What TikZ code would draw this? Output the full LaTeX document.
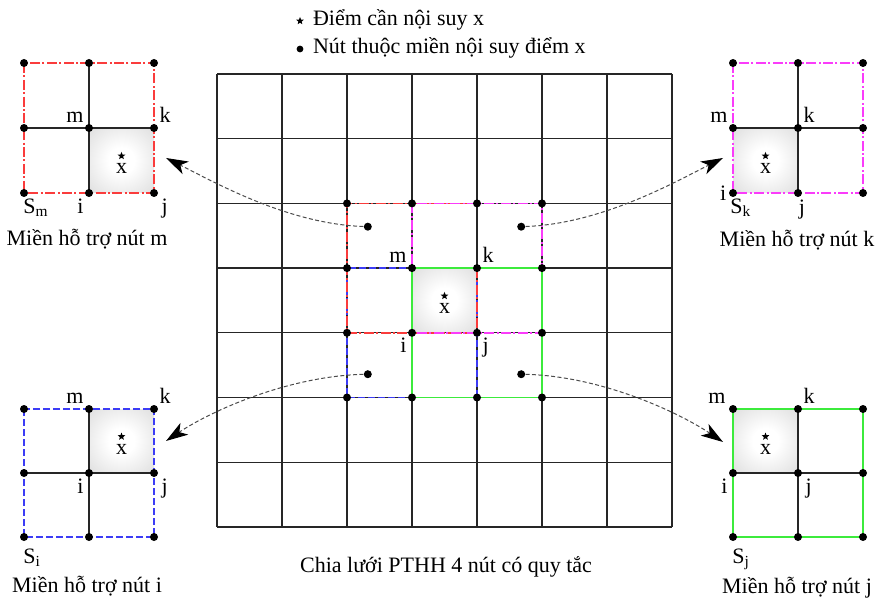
\documentclass[tikz,border=0pt]{standalone}
\usepackage{fontspec}
\setmainfont{Liberation Serif}
\usetikzlibrary{arrows.meta, shapes.geometric, positioning}

\definecolor{suppm}{RGB}{250,60,60}
\definecolor{suppk}{RGB}{250,60,250}
\definecolor{suppi}{RGB}{60,60,245}
\definecolor{suppj}{RGB}{60,235,60}
\pgfdeclareradialshading{cellglow}{\pgfpoint{0bp}{0bp}}{color(0bp)=(white); color(10bp)=(white); color(50bp)=(black!20); color(71bp)=(black!28); color(100bp)=(black!28)}

\begin{document}
\begin{tikzpicture}[
  x=0.5pt, y=-0.5pt,
  every node/.style={font=\fontsize{11}{13}\selectfont},
  gridline/.style={draw=black!85, line width=0.6pt},
  dot/.style={circle, fill=black, inner sep=0pt, minimum size=4pt},
  target/.style={star, star points=5, star point ratio=2.3, fill=black, inner sep=0pt, minimum size=4pt},
  cell/.style={shading=cellglow},
  bordm/.style={draw=suppm, line width=0.8pt, dash pattern=on 5pt off 1.2pt on 1pt off 1.2pt},
  bordk/.style={draw=suppk, line width=0.8pt, dash pattern=on 5pt off 1.2pt on 1pt off 1.2pt},
  bordi/.style={draw=suppi, line width=0.8pt, dash pattern=on 3.5pt off 1.5pt},
  bordj/.style={draw=suppj, line width=0.8pt},
  lbl/.style={inner sep=1pt},
  link/.style={draw=black!70, line width=0.5pt, dash pattern=on 2pt off 1.2pt,
    -{Stealth[length=11pt, width=7pt, inset=3pt, color=black]}}
]
\useasboundingbox (0,0) rectangle (877,598);

% chu thich
\node[target] (keyx) at (300,21) {};
\node[anchor=base west] (keyxtext) at (306,26) {Điểm cần nội suy x};
\node[dot, minimum size=3.4pt] (keynode) at (300,49) {};
\node[anchor=base west] (keynodetext) at (306,54) {Nút thuộc miền nội suy điểm x};

% luoi PTHH
\begin{scope}[shift={(217,74)}, x=32.5pt, y=-32.35pt]
  \shade[cell] (3,3) rectangle (4,4);
  \foreach \n in {0,...,7} {
    \draw[gridline] (\n,0) -- (\n,7);
    \draw[gridline] (0,\n) -- (7,\n);
  }
  \draw[bordi] (2,3) rectangle (4,5);
  \draw[bordm] (4,3) -- (4,4) -- (2,4) -- (2,2) -- (4,2);
  \draw[bordk] (3,2) rectangle (5,4);
  \draw[bordj] (3,3) rectangle (5,5);
  \foreach \a in {2,...,5}
    \foreach \b in {2,...,5}
      \node[dot] (g\a\b) at (\a,\b) {};
  \node[dot] (srcm) at (2.32,2.36) {};
  \node[dot] (srck) at (4.68,2.36) {};
  \node[dot] (srci) at (2.32,4.64) {};
  \node[dot] (srcj) at (4.68,4.64) {};
  \node[target] (starc) at (3.5,3.43) {};
  \node[lbl] (xc) at (3.5,3.63) {x};
  \node[lbl, anchor=south east] (mc) at (g33.north west) {m};
  \node[lbl, anchor=south west] (kc) at (g43.north east) {k};
  \node[lbl, anchor=north east] (ic) at (g34.south west) {i};
  \node[lbl, anchor=north west] (jc) at (g44.south east) {j};
\end{scope}
\node[anchor=base] (capmesh) at (446,572) {Chia lưới PTHH 4 nút có quy tắc};

% mien ho tro nut m
\begin{scope}[shift={(24,63)}, x=32.5pt, y=-32.5pt]
  \shade[cell] (1,1) rectangle (2,2);
  \draw[gridline] (1,0) -- (1,2) (0,1) -- (2,1);
  \draw[bordm] (0,0) rectangle (2,2);
  \foreach \a in {0,1,2}
    \foreach \b in {0,1,2}
      \node[dot] (pm\a\b) at (\a,\b) {};
  \node[target] (starm) at (1.5,1.43) {};
  \node[lbl] (xm) at (1.5,1.63) {x};
  \node[lbl, anchor=south east] (mm) at (pm11.north west) {m};
  \node[lbl, anchor=south west] (km) at (pm21.north east) {k};
  \node[lbl, anchor=north east] (im) at (pm12.south west) {i};
  \node[lbl, anchor=north west, xshift=1pt] (jm) at (pm22.south east) {j};
  \node[lbl, anchor=north west] (sm) at (pm02.south west) {S\textsubscript{m}};
\end{scope}
\node[anchor=base] (capm) at (87,246) {Miền hỗ trợ nút m};

% mien ho tro nut k
\begin{scope}[shift={(733,63)}, x=32.5pt, y=-32.5pt]
  \shade[cell] (0,1) rectangle (1,2);
  \draw[gridline] (1,0) -- (1,2) (0,1) -- (2,1);
  \draw[bordk] (0,0) rectangle (2,2);
  \foreach \a in {0,1,2}
    \foreach \b in {0,1,2}
      \node[dot] (pk\a\b) at (\a,\b) {};
  \node[target] (stark) at (0.5,1.43) {};
  \node[lbl] (xk) at (0.5,1.63) {x};
  \node[lbl, anchor=south east] (mk) at (pk01.north west) {m};
  \node[lbl, anchor=south west] (kk) at (pk11.north east) {k};
  \node[lbl, anchor=east] (ik) at (pk02.west) {i};
  \node[lbl, anchor=north, xshift=2pt] (jk) at (pk12.south) {j};
  \node[lbl, anchor=north west, xshift=-1pt] (sk) at (pk02.south west) {S\textsubscript{k}};
\end{scope}
\node[anchor=base] (capk) at (797,247) {Miền hỗ trợ nút k};

% mien ho tro nut i
\begin{scope}[shift={(24,409)}, x=32.5pt, y=-32pt]
  \shade[cell] (1,0) rectangle (2,1);
  \draw[gridline] (1,0) -- (1,2) (0,1) -- (2,1);
  \draw[bordi] (0,0) rectangle (2,2);
  \foreach \a in {0,1,2}
    \foreach \b in {0,1,2}
      \node[dot] (pi\a\b) at (\a,\b) {};
  \node[target] (stari) at (1.5,0.43) {};
  \node[lbl] (xi) at (1.5,0.63) {x};
  \node[lbl, anchor=south east] (mi) at (pi10.north west) {m};
  \node[lbl, anchor=south west] (ki) at (pi20.north east) {k};
  \node[lbl, anchor=north east] (ii) at (pi11.south west) {i};
  \node[lbl, anchor=north west, xshift=1pt] (ji) at (pi21.south east) {j};
  \node[lbl, anchor=north west, yshift=-3pt] (si) at (pi02.south west) {S\textsubscript{i}};
\end{scope}
\node[anchor=base] (capi) at (87,592) {Miền hỗ trợ nút i};

% mien ho tro nut j
\begin{scope}[shift={(733,409)}, x=32.5pt, y=-32pt]
  \shade[cell] (0,0) rectangle (1,1);
  \draw[gridline] (1,0) -- (1,2) (0,1) -- (2,1);
  \draw[bordj] (0,0) rectangle (2,2);
  \foreach \a in {0,1,2}
    \foreach \b in {0,1,2}
      \node[dot] (pj\a\b) at (\a,\b) {};
  \node[target] (starj) at (0.5,0.43) {};
  \node[lbl] (xj) at (0.5,0.63) {x};
  \node[lbl, anchor=south east, xshift=-1pt] (mj) at (pj00.north west) {m};
  \node[lbl, anchor=south west] (kj) at (pj10.north east) {k};
  \node[lbl, anchor=north east] (ij) at (pj01.south west) {i};
  \node[lbl, anchor=north west, xshift=1pt] (jj) at (pj11.south east) {j};
  \node[lbl, anchor=north west, yshift=-3pt] (sj) at (pj02.south west) {S\textsubscript{j}};
\end{scope}
\node[anchor=base] (capj) at (797,593) {Miền hỗ trợ nút j};

% mui ten
\coordinate (tipm) at (166,158);
\coordinate (tipk) at (723,158);
\coordinate (tipi) at (166,441);
\coordinate (tipj) at (723,442);
\draw[link] (srcm) .. controls +(-80,-3) and +(50,25) .. (tipm);
\draw[link] (srck) .. controls +(80,-3) and +(-50,25) .. (tipk);
\draw[link] (srci) .. controls +(-80,2) and +(45,-30) .. (tipi);
\draw[link] (srcj) .. controls +(80,2) and +(-45,-30) .. (tipj);

\end{tikzpicture}
\end{document}
